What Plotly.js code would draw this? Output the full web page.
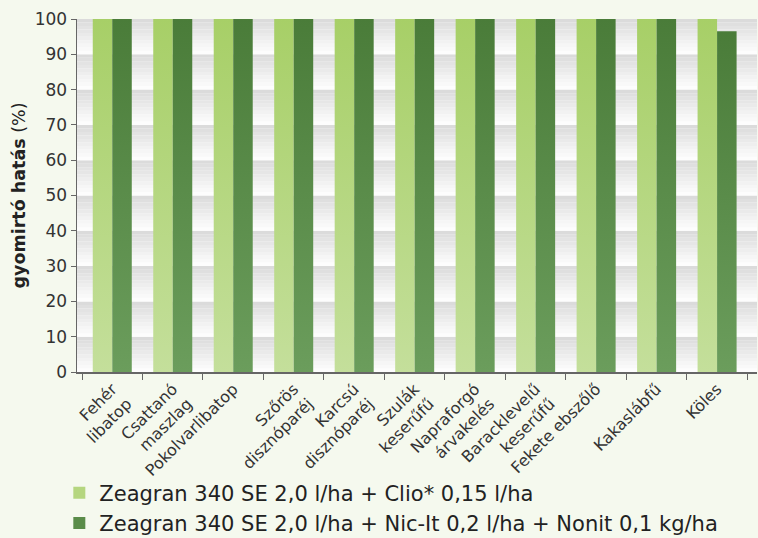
<!DOCTYPE html>
<html>
<head>
<meta charset="utf-8">
<script src="https://cdn.plot.ly/plotly-3.0.1.min.js"></script>
<style>
html,body{margin:0;padding:0;background:#f5f9ee;}
#chart{width:758px;height:538px;}
</style>
</head>
<body>
<div id="chart"></div>
<script>
var categories = ["Fehér<br>libatop","Csattanó<br>maszlag","Pokolvarlibatop","Szőrös<br>disznóparéj","Karcsú<br>disznóparéj","Szulák<br>keserűfű","Napraforgó<br>árvakelés","Baracklevelű<br>keserűfű","Fekete ebszőlő","Kakaslábfű","Köles"];
var seriesNames = ["Zeagran 340 SE 2,0 l/ha + Clio* 0,15 l/ha","Zeagran 340 SE 2,0 l/ha + Nic-It 0,2 l/ha + Nonit 0,1 kg/ha"];
var series1 = [100,100,100,100,100,100,100,100,100,100,100];
var series2 = [100,100,100,100,100,100,100,100,100,100,96.5];
var yTicks = [0,10,20,30,40,50,60,70,80,90,100];

var FONT = "'DejaVu Sans', sans-serif";

// background bands (gray at top fading to white at bottom of each 10-unit band)
var shapes = [];
var steps = 10;
for (var b = 0; b < yTicks.length - 1; b++) {
  var lo = yTicks[b], hi = yTicks[b+1];
  for (var s = 0; s < steps; s++) {
    var y0 = lo + (hi - lo) * s / steps;
    var y1 = lo + (hi - lo) * (s + 1) / steps;
    var t = (s + 0.5) / steps; // 0 bottom, 1 top
    var g = Math.round(255 - t * 38);
    shapes.push({type:"rect", xref:"paper", yref:"y", x0:0, x1:1, y0:y0, y1:y1,
      fillcolor:"rgb("+g+","+g+","+g+")", line:{width:0}, layer:"below"});
  }
}

var data = [
  {type:"bar", name:seriesNames[0], x:categories, y:series1,
   marker:{color:"#b5d67f", line:{width:0}}},
  {type:"bar", name:seriesNames[1], x:categories, y:series2,
   marker:{color:"#5a8c49", line:{width:0}}}
];

var layout = {
  width:758, height:538,
  margin:{l:77, r:1, t:19, b:166, autoexpand:false},
  paper_bgcolor:"#f5f9ee",
  plot_bgcolor:"#ffffff",
  barmode:"group", bargap:0.355, bargroupgap:0,
  font:{family:FONT, color:"#333333"},
  showlegend:true,
  legend:{x:-0.026, xanchor:"left", y:-0.285, yanchor:"top", orientation:"v",
    font:{family:FONT, size:21, color:"#222222"}, bgcolor:"rgba(0,0,0,0)",
    itemwidth:30, tracegroupgap:0},
  xaxis:{type:"category", range:[-0.583, 10.66], tickangle:-45, automargin:false,
    tickfont:{family:FONT, size:16, color:"#333333"},
    ticks:"outside", ticklen:6, tickcolor:"#666666", tickson:"boundaries",
    showline:true, linecolor:"#666666", linewidth:1.5, showgrid:false, zeroline:false},
  yaxis:{range:[0,100], tickvals:yTicks, ticks:"outside", ticklen:5, tickcolor:"#666666", automargin:false,
    tickfont:{family:FONT, size:17, color:"#333333"},
    showline:true, linecolor:"#666666", linewidth:1.5, showgrid:false, zeroline:false,
    title:{text:"<b>gyomirtó hatás</b> (%)", font:{family:FONT, size:17.5, color:"#222222"}, standoff:4}},
  shapes:shapes
};

Plotly.newPlot("chart", data, layout, {displayModeBar:false, staticPlot:true}).then(function(gd){
  var svg = gd.querySelector(".main-svg");
  var ns = "http://www.w3.org/2000/svg";
  var defs = svg.querySelector("defs") || svg.insertBefore(document.createElementNS(ns,"defs"), svg.firstChild);
  function grad(id, top, bot){
    var lg = document.createElementNS(ns,"linearGradient");
    lg.setAttribute("id", id); lg.setAttribute("x1","0"); lg.setAttribute("y1","0");
    lg.setAttribute("x2","0"); lg.setAttribute("y2","1");
    var s1 = document.createElementNS(ns,"stop"); s1.setAttribute("offset","0"); s1.setAttribute("stop-color",top);
    var s2 = document.createElementNS(ns,"stop"); s2.setAttribute("offset","1"); s2.setAttribute("stop-color",bot);
    lg.appendChild(s1); lg.appendChild(s2); defs.appendChild(lg);
  }
  grad("gLight","#a7cf67","#c4df9b");
  grad("gDark","#4a7c39","#6b9d5c");
  var traces = gd.querySelectorAll(".trace.bars");
  traces.forEach(function(tr, i){
    tr.querySelectorAll(".point path").forEach(function(p){
      p.style.fill = "url(#" + (i === 0 ? "gLight" : "gDark") + ")";
    });
  });
});
</script>
</body>
</html>
